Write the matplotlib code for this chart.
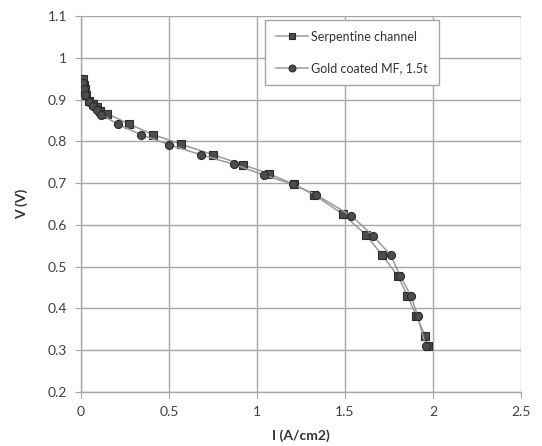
import matplotlib
matplotlib.use("Agg")
import matplotlib.pyplot as plt

plt.rcParams['font.family'] = ['Lato', 'DejaVu Sans']

serp_i = [0.01, 0.015, 0.02, 0.03, 0.045, 0.07, 0.09, 0.11, 0.15, 0.27, 0.41, 0.57, 0.75,
          0.92, 1.07, 1.21, 1.325, 1.49, 1.62, 1.71, 1.80, 1.855, 1.905, 1.955, 1.97]
serp_v = [0.95, 0.935, 0.925, 0.91, 0.897, 0.889, 0.881, 0.873, 0.866, 0.842, 0.816, 0.793, 0.768,
          0.744, 0.722, 0.697, 0.672, 0.625, 0.576, 0.528, 0.478, 0.43, 0.383, 0.334, 0.31]

gold_i = [0.012, 0.018, 0.025, 0.047, 0.066, 0.089, 0.114, 0.21, 0.34, 0.50, 0.68, 0.87,
          1.04, 1.205, 1.335, 1.535, 1.66, 1.76, 1.815, 1.875, 1.912, 1.958]
gold_v = [0.94, 0.925, 0.91, 0.894, 0.884, 0.874, 0.864, 0.841, 0.816, 0.792, 0.768, 0.745,
          0.719, 0.697, 0.672, 0.622, 0.574, 0.527, 0.477, 0.43, 0.383, 0.31]

x_ticks = [0, 0.5, 1, 1.5, 2, 2.5]
x_tick_labels = ['0', '0.5', '1', '1.5', '2', '2.5']
y_ticks = [0.2, 0.3, 0.4, 0.5, 0.6, 0.7, 0.8, 0.9, 1.0, 1.1]
y_tick_labels = ['0.2', '0.3', '0.4', '0.5', '0.6', '0.7', '0.8', '0.9', '1', '1.1']

fig = plt.figure(figsize=(5.42, 4.46), dpi=100)
ax = fig.add_axes([81/542, 1 - 392/446, 440/542, 376/446])

line_col = '#9a9a9a'
mk_face = '#4d4d4d'
mk_edge = '#2b2b2b'

ax.plot(serp_i, serp_v, color=line_col, lw=1.1, marker='s', ms=5.6,
        mfc=mk_face, mec=mk_edge, mew=0.8, label='Serpentine channel', zorder=3)
ax.plot(gold_i, gold_v, color=line_col, lw=1.1, marker='o', ms=5.8,
        mfc=mk_face, mec=mk_edge, mew=0.8, label='Gold coated MF, 1.5t', zorder=3)

ax.set_xlim(0, 2.5)
ax.set_ylim(0.2, 1.1)
ax.set_xticks(x_ticks)
ax.set_xticklabels(x_tick_labels)
ax.set_yticks(y_ticks)
ax.set_yticklabels(y_tick_labels)

ax.grid(True, color='#a6a6a6', lw=1.0, zorder=0)
ax.set_axisbelow(True)
for s in ['top', 'right']:
    ax.spines[s].set_visible(False)
for s in ['left', 'bottom']:
    ax.spines[s].set_color('#a6a6a6')
    ax.spines[s].set_linewidth(1.0)
ax.tick_params(axis='both', colors='#a6a6a6', labelcolor='#404040', labelsize=10,
               length=4, direction='out', pad=6)

ax.set_xlabel('I (A/cm2)', fontsize=10, fontweight='bold', color='#333333', labelpad=8)
ax.set_ylabel('V (V)', fontsize=10, fontweight='bold', color='#333333', labelpad=14)

leg = ax.legend(loc='upper left', bbox_to_anchor=(184/440, 1 - 4/376), fontsize=9,
                frameon=True, fancybox=False, edgecolor='#a6a6a6', framealpha=1,
                labelspacing=1.6, handlelength=2.6, borderpad=0.85, handletextpad=0.25,
                borderaxespad=0, markerscale=0.85)
leg.get_frame().set_linewidth(1.0)
for t in leg.get_texts():
    t.set_color('#333333')

fig.savefig('out.png', dpi=100)
